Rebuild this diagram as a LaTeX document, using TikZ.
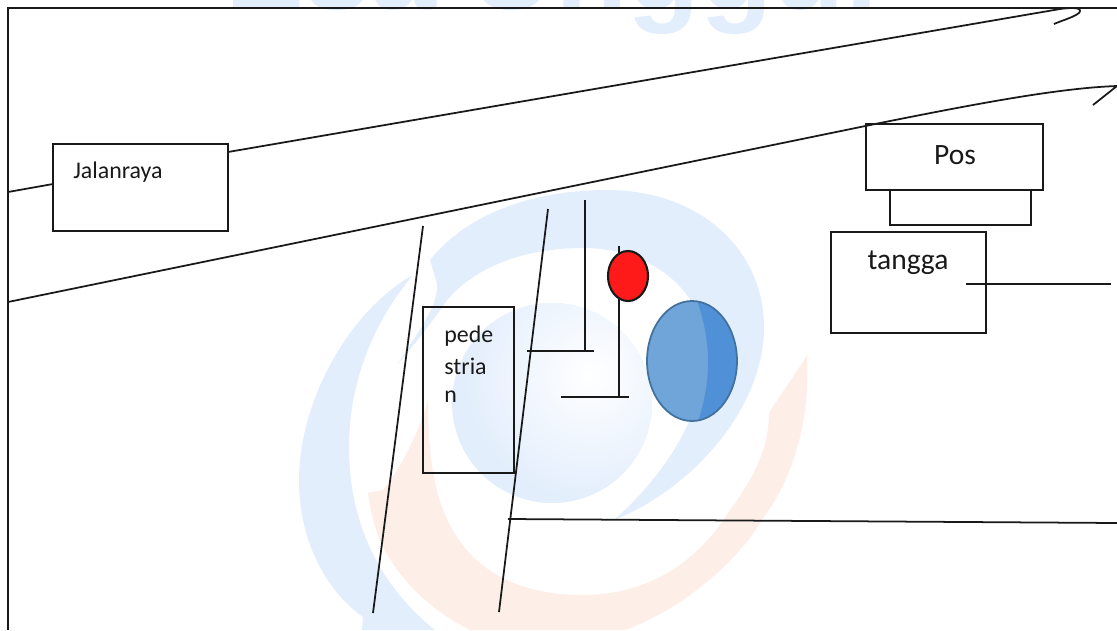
\documentclass[tikz,border=0pt]{standalone}
\usepackage{color}
\usepackage{fontspec}
\setmainfont{Carlito}
\newfontfamily\markfont{Liberation Sans}
\definecolor{markblue}{HTML}{E3EEFC}
\definecolor{markorange}{HTML}{FDEEE7}
\definecolor{tankdark}{HTML}{5090D6}
\definecolor{tanklight}{HTML}{6FA5D8}
\definecolor{tankline}{HTML}{41719C}
\definecolor{lampred}{HTML}{FF1A1A}
\tikzset{
  plan/.style={line width=1pt,black!90},
  lbl/.style={inner sep=0pt,text=black!90},
  smalllbl/.style={lbl,font=\fontsize{13.6}{15}\selectfont},
  biglbl/.style={lbl,font=\fontsize{16.8}{18}\selectfont}
}
\begin{document}
\begin{tikzpicture}[x=0.02cm,y=0.02cm]
\useasboundingbox (0,0) rectangle (1117,-630);
\clip (0,0) rectangle (1117,-630);
% watermark
\fill [markblue] (430,-260) .. controls (470,-210) and (540,-190) .. (607,-190) .. controls (700,-190) and (764,-250) .. (764,-327) .. controls (764,-410) and (690,-490) .. (614,-520) .. controls (670,-470) and (705,-410) .. (705,-350) .. controls (705,-290) and (650,-248) .. (583,-248) .. controls (520,-248) and (470,-270) .. (445,-303) .. controls (430,-325) and (410,-350) .. (397,-365) .. controls (415,-335) and (445,-300) .. (435,-277) -- cycle;
\fill [markblue] (413,-275) .. controls (350,-310) and (299,-400) .. (299,-480) .. controls (299,-540) and (325,-590) .. (363,-617) -- (362,-630) -- (435,-630) .. controls (385,-590) and (349,-530) .. (349,-447) .. controls (349,-380) and (375,-320) .. (413,-275) -- cycle;
\begin{scope}
\clip (552,-403) circle (100);
\fill [markblue] (552,-403) circle (100);
\shade [inner color=white,outer color=markblue] (590,-375) circle (125);
\end{scope}
\fill [markorange] (368,-493) -- (383,-490) .. controls (400,-470) and (420,-430) .. (428,-400) .. controls (428,-470) and (438,-510) .. (459,-540) .. controls (485,-578) and (530,-595) .. (583,-595) .. controls (645,-595) and (695,-565) .. (728,-513) .. controls (752,-480) and (769,-450) .. (769,-413) .. controls (780,-395) and (795,-375) .. (807,-355) .. controls (810,-420) and (795,-475) .. (762,-520) .. controls (735,-565) and (680,-610) .. (625,-630) -- (470,-630) .. controls (430,-610) and (400,-580) .. (383,-547) .. controls (375,-530) and (370,-510) .. (368,-493) -- cycle;
\node [anchor=base,inner sep=0pt,text=markblue,font=\markfont\bfseries\fontsize{67.5}{70}\selectfont] (markname) at (552,-9) {Esa Unggul};
% frame
\draw [plan] (8,-630) -- (8,-8) -- (1117,-8);
% road
\draw [plan] (8,-192) -- (53,-184);
\draw [plan] (228,-152) -- (1060,-9) .. controls (1075,-7) and (1083,-8) .. (1079,-13) .. controls (1072,-18) and (1063,-20) .. (1054,-24);
\draw [plan] (8,-302) -- (880,-123) .. controls (980,-103) and (1060,-88) .. (1117,-86) -- (1093,-105);
% boxes
\draw [plan] (53,-144) rectangle (228,-231);
\node [smalllbl,anchor=west] (jalan) at (73,-172) {Jalanraya};
\draw [plan] (423,-307) rectangle (514,-473);
\node [smalllbl,anchor=west] (pede) at (444,-336) {pede};
\node [smalllbl,anchor=west] (stria) at (444,-366) {stria};
\node [smalllbl,anchor=west] (akhir) at (444,-397) {n};
\draw [plan] (866,-124) rectangle (1043,-190);
\node [biglbl] (pos) at (955,-155) {Pos};
\draw [plan] (890,-190) rectangle (1031,-225);
\draw [plan] (831,-232) rectangle (986,-333);
\node [biglbl] (tangga) at (908,-263) {tangga};
\draw [plan] (966,-284) -- (1111,-284);
% crossing
\draw [plan] (423,-226) -- (373,-613);
\draw [plan] (548,-209) -- (499,-612);
\draw [plan] (508,-519) -- (1117,-523);
% poles
\draw [plan] (585,-200) -- (585,-351);
\draw [plan] (527,-351) -- (594,-351);
\draw [plan] (619,-246) -- (619,-397);
\draw [plan] (561,-397) -- (629,-397);
\draw [plan,fill=lampred,line width=1.2pt] (628,-276) ellipse (20 and 25);
\fill [tanklight] (692,-361) ellipse (45 and 60);
\begin{scope}
\clip (692,-361) ellipse (45 and 60);
\fill [tankdark] (695,-295) .. controls (712,-340) and (712,-380) .. (697,-425) -- (745,-425) -- (745,-295) -- cycle;
\end{scope}
\draw [tankline,line width=1pt] (692,-361) ellipse (45 and 60);
\end{tikzpicture}
\end{document}
